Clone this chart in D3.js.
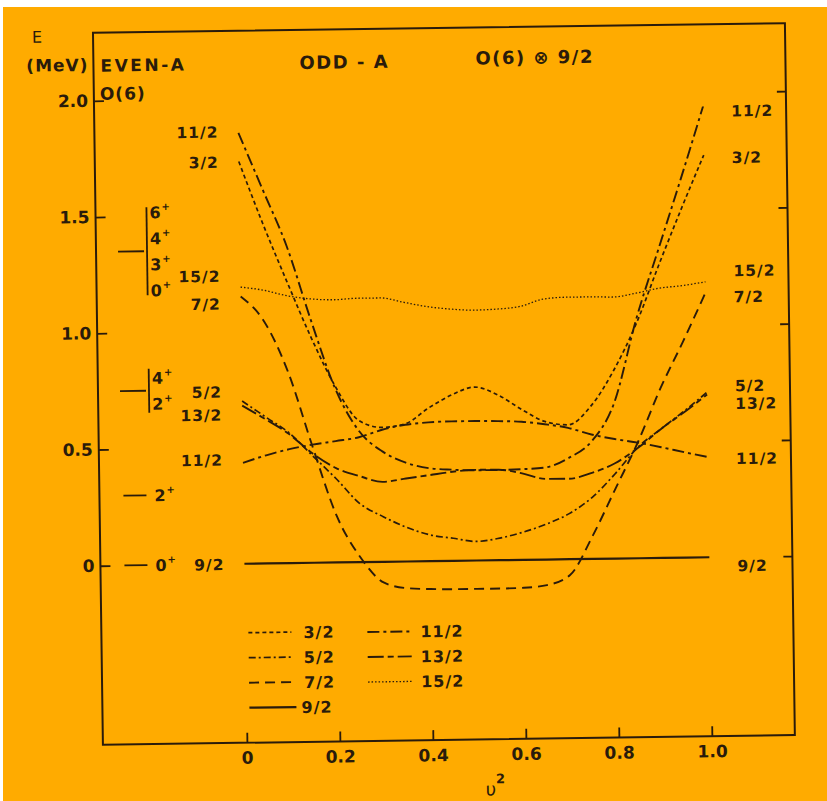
<!DOCTYPE html>
<html>
<head>
<meta charset="utf-8">
<script src="https://cdn.jsdelivr.net/npm/d3@7"></script>
<style>
  html, body { margin: 0; padding: 0; background: #ffffff; }
  svg { display: block; }
  text { font-family: "DejaVu Sans", sans-serif; fill: #2a1b0b; }
</style>
</head>
<body>
<svg id="chart" width="827" height="801"></svg>
<script>
// ---- data -------------------------------------------------------------
// occupation probability v^2 along the horizontal axis
const v2 = [0, 0.05, 0.1, 0.15, 0.2, 0.25, 0.3, 0.35, 0.4, 0.45, 0.5,
            0.55, 0.6, 0.65, 0.7, 0.75, 0.8, 0.85, 0.9, 0.95, 1.0];

// excitation energies (MeV) of the odd-A states, one value per v^2 point
const E_3_2   = [1.73, 1.46, 1.21, 0.97, 0.76, 0.61, 0.578, 0.592, 0.658, 0.713, 0.746,
                 0.711, 0.648, 0.594, 0.578, 0.658, 0.81, 1.01, 1.26, 1.50, 1.73];
const E_5_2   = [0.70, 0.63, 0.56, 0.46, 0.36, 0.252, 0.194, 0.147, 0.113, 0.097, 0.082,
                 0.095, 0.119, 0.152, 0.196, 0.265, 0.365, 0.478, 0.555, 0.63, 0.71];
const E_7_2   = [1.15, 1.04, 0.82, 0.50, 0.20, 0.02, -0.09, -0.115, -0.12, -0.122, -0.122,
                 -0.122, -0.12, -0.11, -0.068, 0.10, 0.30, 0.50, 0.73, 0.93, 1.14];
const E_9_2   = [0, 0, 0, 0, 0, 0, 0, 0, 0, 0, 0, 0, 0, 0, 0, 0, 0, 0, 0, 0, 0];
const E_11_2a = [1.853, 1.61, 1.365, 1.045, 0.75, 0.565, 0.475, 0.425, 0.40, 0.392, 0.388,
                 0.388, 0.39, 0.396, 0.435, 0.505, 0.67, 1.03, 1.33, 1.63, 1.94];
const E_11_2b = [0.434, 0.465, 0.49, 0.508, 0.522, 0.537, 0.568, 0.588, 0.597, 0.600, 0.600,
                 0.598, 0.594, 0.582, 0.565, 0.535, 0.514, 0.497, 0.476, 0.453, 0.431];
const E_13_2  = [0.68, 0.62, 0.555, 0.47, 0.406, 0.37, 0.344, 0.357, 0.37, 0.383, 0.39,
                 0.389, 0.372, 0.347, 0.346, 0.37, 0.41, 0.475, 0.555, 0.625, 0.70];
const E_15_2  = [1.19, 1.175, 1.15, 1.135, 1.13, 1.135, 1.135, 1.115, 1.095, 1.083, 1.077,
                 1.08, 1.09, 1.12, 1.127, 1.127, 1.125, 1.14, 1.16, 1.17, 1.185];

// state labels at both ends of the curves (spin, energy of the label)
const leftLabelNames  = ["11/2", "3/2", "15/2", "7/2", "5/2", "13/2", "11/2", "9/2"];
const leftLabelE      = [1.86, 1.73, 1.24, 1.12, 0.742, 0.643, 0.449, 0];
const rightLabelNames = ["11/2", "3/2", "15/2", "7/2", "5/2", "13/2", "11/2", "9/2"];
const rightLabelE     = [1.92, 1.72, 1.233, 1.121, 0.738, 0.662, 0.425, -0.036];

// even-A O(6) reference spectrum
const evenLevelE = [0, 0.30, 0.75, 1.35];
const evenSpins  = [["0"], ["2"], ["4", "2"], ["6", "4", "3", "0"]];

// axis ticks
const xTicks = [0, 0.2, 0.4, 0.6, 0.8, 1.0];
const yTicks = [0, 0.5, 1.0, 1.5, 2.0];

// legend layout order
const legendLeft  = ["3/2", "5/2", "7/2", "9/2"];
const legendRight = ["11/2", "13/2", "15/2"];

// ---- drawing ----------------------------------------------------------
const ink = "#2a1b0b";
const series = [
  { spin: "3/2",  values: E_3_2 },
  { spin: "5/2",  values: E_5_2 },
  { spin: "7/2",  values: E_7_2 },
  { spin: "9/2",  values: E_9_2 },
  { spin: "11/2", values: E_11_2a },
  { spin: "11/2", values: E_11_2b },
  { spin: "13/2", values: E_13_2 },
  { spin: "15/2", values: E_15_2 }
];
const lineStyle = {
  "3/2":  { dash: "4,3",       w: 1.7 },
  "5/2":  { dash: "7,3,2,3",   w: 1.7 },
  "7/2":  { dash: "10,6",      w: 1.9 },
  "9/2":  { dash: null,        w: 2.2 },
  "11/2": { dash: "12,4,3,4",  w: 1.9 },
  "13/2": { dash: "16,4,6,4",  w: 1.9 },
  "15/2": { dash: "1.5,2",     w: 1.3 }
};

const svg = d3.select("#chart");
svg.append("rect").attr("x", 3).attr("y", 7).attr("width", 824).attr("height", 794)
  .attr("fill", "#ffab00");

// the whole plate sits slightly tilted
const g = svg.append("g").attr("transform", "rotate(-0.8 440 390)");

const frame = { left: 98, right: 790, top: 28, bottom: 740 };
const x = d3.scaleLinear().domain([0, 1]).range([242, 707]);
const y = d3.scaleLinear().domain([0, 2]).range([561, 96]);

g.append("path")
  .attr("d", `M${frame.left},${frame.top}V${frame.bottom}H${frame.right}V${frame.top}Z`)
  .attr("fill", "none").attr("stroke", ink).attr("stroke-width", 2);

function styleAxis(sel, size) {
  sel.attr("color", ink).attr("font-family", null).attr("font-size", null);
  sel.select(".domain").remove();
  sel.selectAll(".tick line").attr("stroke-width", 1.8);
  sel.selectAll(".tick text").style("font-size", size + "px").style("font-weight", "bold");
}

// bottom axis
g.append("g").attr("transform", `translate(0,${frame.bottom})`)
  .call(d3.axisBottom(x).tickValues(xTicks).tickSize(-10).tickPadding(9)
    .tickFormat(d => d === 0 ? "0" : d3.format(".1f")(d)))
  .call(s => styleAxis(s, 17));

// left energy axis
g.append("g").attr("transform", `translate(${frame.left},0)`)
  .call(d3.axisLeft(y).tickValues(yTicks).tickSize(-10).tickPadding(6)
    .tickFormat(d => d === 0 ? "0" : d3.format(".1f")(d)))
  .call(s => styleAxis(s, 17));

// right axis, ticks only
g.append("g").attr("transform", `translate(${frame.right},0)`)
  .call(d3.axisRight(y).tickValues(yTicks).tickSize(-9).tickFormat(() => ""))
  .call(s => styleAxis(s, 10));

// axis titles and headings
g.append("text").attr("x", 42).attr("y", 37).attr("text-anchor", "middle")
  .style("font-size", "16px").text("E");
g.append("text").attr("x", 93).attr("y", 66).attr("text-anchor", "end")
  .style("font-size", "17px").style("font-weight", "bold").style("letter-spacing", "1px").text("(MeV)");
g.append("text").attr("x", 105).attr("y", 67)
  .style("font-size", "17px").style("font-weight", "bold").style("letter-spacing", "2.5px").text("EVEN-A");
g.append("text").attr("x", 104).attr("y", 95)
  .style("font-size", "17px").style("font-weight", "bold").style("letter-spacing", "1px").text("O(6)");
g.append("text").attr("x", 304).attr("y", 67)
  .style("font-size", "18px").style("font-weight", "bold").style("letter-spacing", "1.5px").text("ODD - A");
g.append("text").attr("x", 480).attr("y", 65)
  .style("font-size", "18px").style("font-weight", "bold").style("letter-spacing", "1.5px").text("O(6) \u2297 9/2");

const xt = g.append("text").attr("x", 480).attr("y", 796).style("font-size", "18px");
xt.append("tspan").text("\u03c5");
xt.append("tspan").attr("dy", -12).style("font-size", "13px").style("font-weight", "bold").text("2");

// curves
const line = d3.line().x((d, i) => x(v2[i])).y(d => y(d)).curve(d3.curveMonotoneX);
g.append("g").selectAll("path").data(series).join("path")
  .attr("d", d => line(d.values))
  .attr("fill", "none").attr("stroke", ink)
  .attr("stroke-width", d => lineStyle[d.spin].w)
  .attr("stroke-dasharray", d => lineStyle[d.spin].dash)
  .attr("stroke-linejoin", "round");

// state labels
const lblFont = "15.5px";
g.append("g").selectAll("text").data(leftLabelNames).join("text")
  .attr("x", 222).attr("y", (d, i) => y(leftLabelE[i]) + 6).attr("text-anchor", "end")
  .style("font-size", lblFont).style("font-weight", "bold").style("letter-spacing", "1px").text(d => d);
g.append("g").selectAll("text").data(rightLabelNames).join("text")
  .attr("x", 735).attr("y", (d, i) => y(rightLabelE[i]) + 6)
  .style("font-size", lblFont).style("font-weight", "bold").style("letter-spacing", "1px").text(d => d);

// even-A level scheme
const lvl = g.append("g").attr("stroke", ink).attr("stroke-width", 1.8);
evenLevelE.forEach((e, k) => {
  const yc = y(e);
  const spins = evenSpins[k];
  const n = spins.length;
  if (n > 1) {
    lvl.append("line").attr("x1", 120).attr("x2", 146).attr("y1", yc).attr("y2", yc);
    lvl.append("line").attr("x1", 149).attr("x2", 149).attr("y1", yc - n * 11).attr("y2", yc + n * 11);
  } else {
    lvl.append("line").attr("x1", 122).attr("x2", 145).attr("y1", yc).attr("y2", yc);
  }
  spins.forEach((s, i) => {
    const ty = yc + (i - (n - 1) / 2) * 26 + 6;
    const t = g.append("text").attr("x", n > 1 ? 152 : 153).attr("y", ty)
      .style("font-size", "16px").style("font-weight", "bold");
    t.append("tspan").text(s);
    t.append("tspan").attr("dx", 1).attr("dy", -8).style("font-size", "10px").text("+");
  });
});

// legend
function legendRow(spin, x0, x1, tx, yy) {
  const st = lineStyle[spin];
  g.append("line").attr("x1", x0).attr("x2", x1).attr("y1", yy).attr("y2", yy)
    .attr("stroke", ink).attr("stroke-width", st.w).attr("stroke-dasharray", st.dash);
  g.append("text").attr("x", tx).attr("y", yy + 6)
    .style("font-size", "16px").style("font-weight", "bold").style("letter-spacing", "1px").text(spin);
}
legendLeft.forEach((s, i) => {
  if (s === "9/2") legendRow(s, 245, 292, 297, 630 + i * 25);
  else legendRow(s, 245, 288, 300, 630 + i * 25);
});
legendRight.forEach((s, i) => legendRow(s, 364, 408, 417, 631 + i * 25));
</script>
</body>
</html>
